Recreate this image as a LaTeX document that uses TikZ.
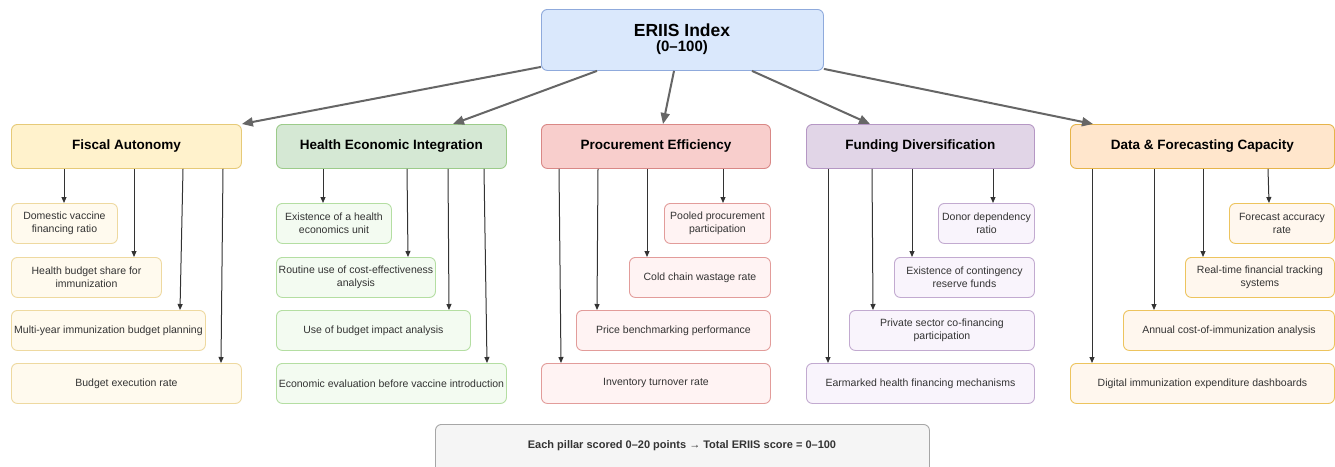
\documentclass[tikz,border=0pt]{standalone}
\usepackage{fontspec}
\setmainfont{Liberation Sans}
\usetikzlibrary{arrows.meta,calc}
\definecolor{topfill}{HTML}{DAE8FC}\definecolor{topdraw}{HTML}{8FAADC}
\definecolor{fafill}{HTML}{FFF2CC}\definecolor{fadraw}{HTML}{E6CA78}
\definecolor{facfill}{HTML}{FFFAEE}\definecolor{facdraw}{HTML}{EED9A0}
\definecolor{hefill}{HTML}{D5E8D4}\definecolor{hedraw}{HTML}{9CCB8A}
\definecolor{hecfill}{HTML}{F3FBF1}\definecolor{hecdraw}{HTML}{B4DEA2}
\definecolor{pefill}{HTML}{F8CECC}\definecolor{pedraw}{HTML}{D98886}
\definecolor{pecfill}{HTML}{FFF3F3}\definecolor{pecdraw}{HTML}{E29C9A}
\definecolor{fdfill}{HTML}{E1D5E7}\definecolor{fddraw}{HTML}{B597C4}
\definecolor{fdcfill}{HTML}{F9F4FC}\definecolor{fdcdraw}{HTML}{C2AAD0}
\definecolor{dffill}{HTML}{FFE6CC}\definecolor{dfdraw}{HTML}{E6B44A}
\definecolor{dfcfill}{HTML}{FFF7EE}\definecolor{dfcdraw}{HTML}{EDC45E}
\definecolor{notefill}{HTML}{F5F5F5}\definecolor{notedraw}{HTML}{A6A6A6}
\definecolor{txt}{HTML}{333333}
\tikzset{
  box/.style={rectangle,rounded corners=6pt,anchor=north west,align=center,inner xsep=1pt,inner ysep=1pt,line width=0.9pt},
  hdr/.style={box,minimum width=#1,minimum height=44pt,font=\fontsize{13.5}{15}\selectfont\bfseries,text=black},
  kid/.style={box,minimum width=#1,minimum height=40pt,font=\fontsize{10.5}{13}\selectfont,text=txt},
  big/.style={-{Triangle[length=11pt,width=9pt]},draw=black!60,line width=2pt},
  arr/.style={-{Triangle[length=6pt,width=5pt]},draw=black!80,line width=1pt},
}
\begin{document}
\begin{tikzpicture}[x=1pt,y=-1pt]
\useasboundingbox (0,0) rectangle (1335,466);
\fill[white] (0,0) rectangle (1335,466);
% top
\node[box,fill=topfill,draw=topdraw,minimum width=282pt,minimum height=61pt] (top) at (541,9) {};
\node[font=\fontsize{17.5}{19}\selectfont\bfseries] (tt) at (682,30) {ERIIS Index};
\node[font=\fontsize{15}{17}\selectfont\bfseries] (tn) at (682,48) {(0–100)};
% headers
\node[hdr=230pt,fill=fafill,draw=fadraw] (fa) at (11,124) {Fiscal Autonomy};
\node[hdr=230pt,fill=hefill,draw=hedraw] (he) at (276,124) {Health Economic Integration};
\node[hdr=229pt,fill=pefill,draw=pedraw] (pe) at (541,124) {Procurement Efficiency};
\node[hdr=228pt,fill=fdfill,draw=fddraw] (fd) at (806,124) {Funding Diversification};
\node[hdr=264pt,fill=dffill,draw=dfdraw] (df) at (1070,124) {Data \& Forecasting Capacity};
% FA children
\tikzset{fac/.style={kid=#1,fill=facfill,draw=facdraw}}
\node[fac=106pt] (fa1) at (11,203) {Domestic vaccine\\financing ratio};
\node[fac=150pt] (fa2) at (11,257) {Health budget share for\\immunization};
\node[fac=194pt] (fa3) at (11,310) {Multi-year immunization budget planning};
\node[fac=230pt] (fa4) at (11,363) {Budget execution rate};
% HE children
\tikzset{hec/.style={kid=#1,fill=hecfill,draw=hecdraw}}
\node[hec=115pt] (he1) at (276,203) {Existence of a health\\economics unit};
\node[hec=159pt] (he2) at (276,257) {Routine use of cost-effectiveness\\analysis};
\node[hec=194pt] (he3) at (276,310) {Use of budget impact analysis};
\node[hec=230pt] (he4) at (276,363) {Economic evaluation before vaccine introduction};
% PE children
\tikzset{pec/.style={kid=#1,fill=pecfill,draw=pecdraw}}
\node[pec=106pt] (pe1) at (664,203) {Pooled procurement\\participation};
\node[pec=141pt] (pe2) at (629,257) {Cold chain wastage rate};
\node[pec=194pt] (pe3) at (576,310) {Price benchmarking performance};
\node[pec=229pt] (pe4) at (541,363) {Inventory turnover rate};
% FD children
\tikzset{fdc/.style={kid=#1,fill=fdcfill,draw=fdcdraw}}
\node[fdc=96pt] (fd1) at (938,203) {Donor dependency\\ratio};
\node[fdc=140pt] (fd2) at (894,257) {Existence of contingency\\reserve funds};
\node[fdc=185pt] (fd3) at (849,310) {Private sector co-financing\\participation};
\node[fdc=228pt] (fd4) at (806,363) {Earmarked health financing mechanisms};
% DF children
\tikzset{dfc/.style={kid=#1,fill=dfcfill,draw=dfcdraw}}
\node[dfc=105pt] (df1) at (1229,203) {Forecast accuracy\\rate};
\node[dfc=149pt] (df2) at (1185,257) {Real-time financial tracking\\systems};
\node[dfc=211pt] (df3) at (1123,310) {Annual cost-of-immunization analysis};
\node[dfc=264pt] (df4) at (1070,363) {Digital immunization expenditure dashboards};
% note
\node[box,fill=notefill,draw=notedraw,minimum width=494pt,minimum height=50pt] (note) at (435,424) {};
\node[font=\fontsize{11}{13}\selectfont\bfseries,text=txt] (notet) at (682,446) {Each pillar scored 0–20 points → Total ERIIS score = 0–100};
% top arrows
\draw[big] ($(top.south west)+(0,-4)$) -- (fa.north east);
\draw[big] ($(top.south west)+(56,0)$) -- ($(he.north west)+(177,0)$);
\draw[big] ($(top.south west)+(133,0)$) -- ($(pe.north west)+(122,0)$);
\draw[big] ($(top.south west)+(211,0)$) -- ($(fd.north west)+(64,0)$);
\draw[big] ($(top.south east)+(0,-2)$) -- ($(df.north west)+(23,0)$);
% FA arrows
\draw[arr] ($(fa.south west)+(53,0)$) -- ($(fa1.north west)+(53,0)$);
\draw[arr] ($(fa.south west)+(123,0)$) -- ($(fa2.north west)+(123,0)$);
\draw[arr] ($(fa.south west)+(172,0)$) -- ($(fa3.north west)+(169,0)$);
\draw[arr] ($(fa.south west)+(212,0)$) -- ($(fa4.north west)+(210,0)$);
% HE arrows
\draw[arr] ($(he.south west)+(47,0)$) -- ($(he1.north west)+(47,0)$);
\draw[arr] ($(he.south west)+(131,0)$) -- ($(he2.north west)+(132,0)$);
\draw[arr] ($(he.south west)+(172,0)$) -- ($(he3.north west)+(173,0)$);
\draw[arr] ($(he.south west)+(208,0)$) -- ($(he4.north west)+(211,0)$);
% PE arrows
\draw[arr] ($(pe.south west)+(182,0)$) -- ($(pe1.north west)+(59,0)$);
\draw[arr] ($(pe.south west)+(106,0)$) -- ($(pe2.north west)+(18,0)$);
\draw[arr] ($(pe.south west)+(57,0)$) -- ($(pe3.north west)+(21,0)$);
\draw[arr] ($(pe.south west)+(18,0)$) -- ($(pe4.north west)+(20,0)$);
% FD arrows
\draw[arr] ($(fd.south west)+(187,0)$) -- ($(fd1.north west)+(55,0)$);
\draw[arr] ($(fd.south west)+(106,0)$) -- ($(fd2.north west)+(18,0)$);
\draw[arr] ($(fd.south west)+(66,0)$) -- ($(fd3.north west)+(24,0)$);
\draw[arr] ($(fd.south west)+(22,0)$) -- ($(fd4.north west)+(22,0)$);
% DF arrows
\draw[arr] ($(df.south west)+(198,0)$) -- ($(df1.north west)+(40,0)$);
\draw[arr] ($(df.south west)+(133,0)$) -- ($(df2.north west)+(18,0)$);
\draw[arr] ($(df.south west)+(84,0)$) -- ($(df3.north west)+(31,0)$);
\draw[arr] ($(df.south west)+(22,0)$) -- ($(df4.north west)+(22,0)$);
\end{tikzpicture}
\end{document}
